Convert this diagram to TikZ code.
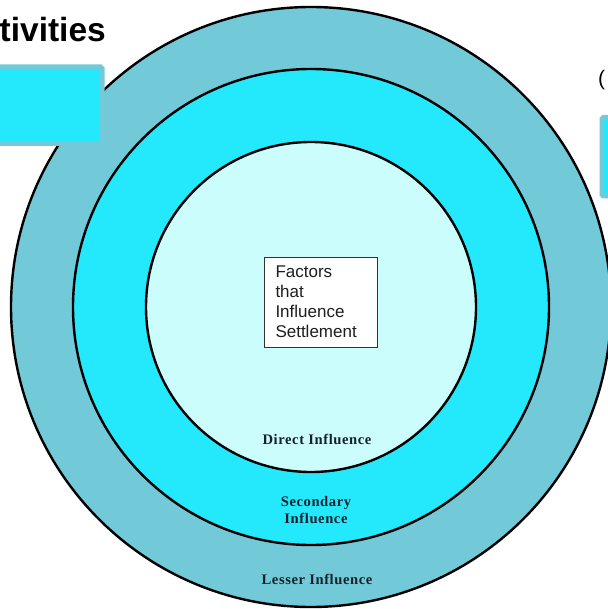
\documentclass[tikz,border=0pt]{standalone}
\usepackage{fontspec}
\setmainfont{Liberation Serif}
\newfontfamily\arialfont{Liberation Sans}
\newfontfamily\labelfont[LetterSpace=4]{Liberation Serif}
\definecolor{ringouter}{RGB}{114,202,216}
\definecolor{ringmid}{RGB}{36,232,252}
\definecolor{ringinner}{RGB}{204,253,253}
\definecolor{labeltext}{RGB}{22,32,44}
\definecolor{boxtext}{RGB}{30,30,30}
\begin{document}
\begin{tikzpicture}[x=1pt,y=-1pt,
  ring/.style={circle,draw=black,line width=2.4pt,inner sep=0pt,outer sep=0pt},
  ringlabel/.style={font=\labelfont\bfseries\fontsize{14.6}{17}\selectfont,text=labeltext,align=center,inner sep=0pt},
  panel/.style={fill=ringmid,draw=ringouter,line width=4.5pt,rounded corners=1.5pt}]
\useasboundingbox (0,0) rectangle (607,609);
\fill[white] (0,0) rectangle (607,609);
\node[ring,fill=ringouter,minimum size=600pt] (outer) at (311,307) {};
\node[ring,fill=ringmid,minimum size=476pt] (middle) at (311,307) {};
\node[ring,fill=ringinner,minimum size=330pt] (inner) at (311,307) {};
\node[draw=black!80,line width=0.9pt,fill=white,minimum width=113pt,minimum height=90pt,
  text width=90pt,inner xsep=11.5pt,align=left,text=boxtext,
  font=\arialfont\fontsize{17}{20}\selectfont] (factors) at (320.5,302)
  {Factors\\that\\Influence\\Settlement};
\node[ringlabel] (direct) at (317,439) {Direct Influence};
\node[ringlabel] (secondary) at (316,510.5) {Secondary\\Influence};
\node[ringlabel] (lesser) at (317,579) {Lesser Influence};
\node[panel,minimum width=115pt,minimum height=77pt,anchor=north west] (leftpanel) at (-15,64.5) {};
\node[panel,minimum width=30pt,minimum height=79pt,anchor=north west] (rightpanel) at (599.5,115) {};
\node[anchor=base east,inner sep=0pt,font=\arialfont\bfseries\fontsize{33.5}{38}\selectfont] (title) at (106,42) {tivities};
\node[anchor=base west,inner sep=0pt,font=\arialfont\fontsize{21}{24}\selectfont,text=black] (paren) at (598,86) {(};
\end{tikzpicture}
\end{document}
